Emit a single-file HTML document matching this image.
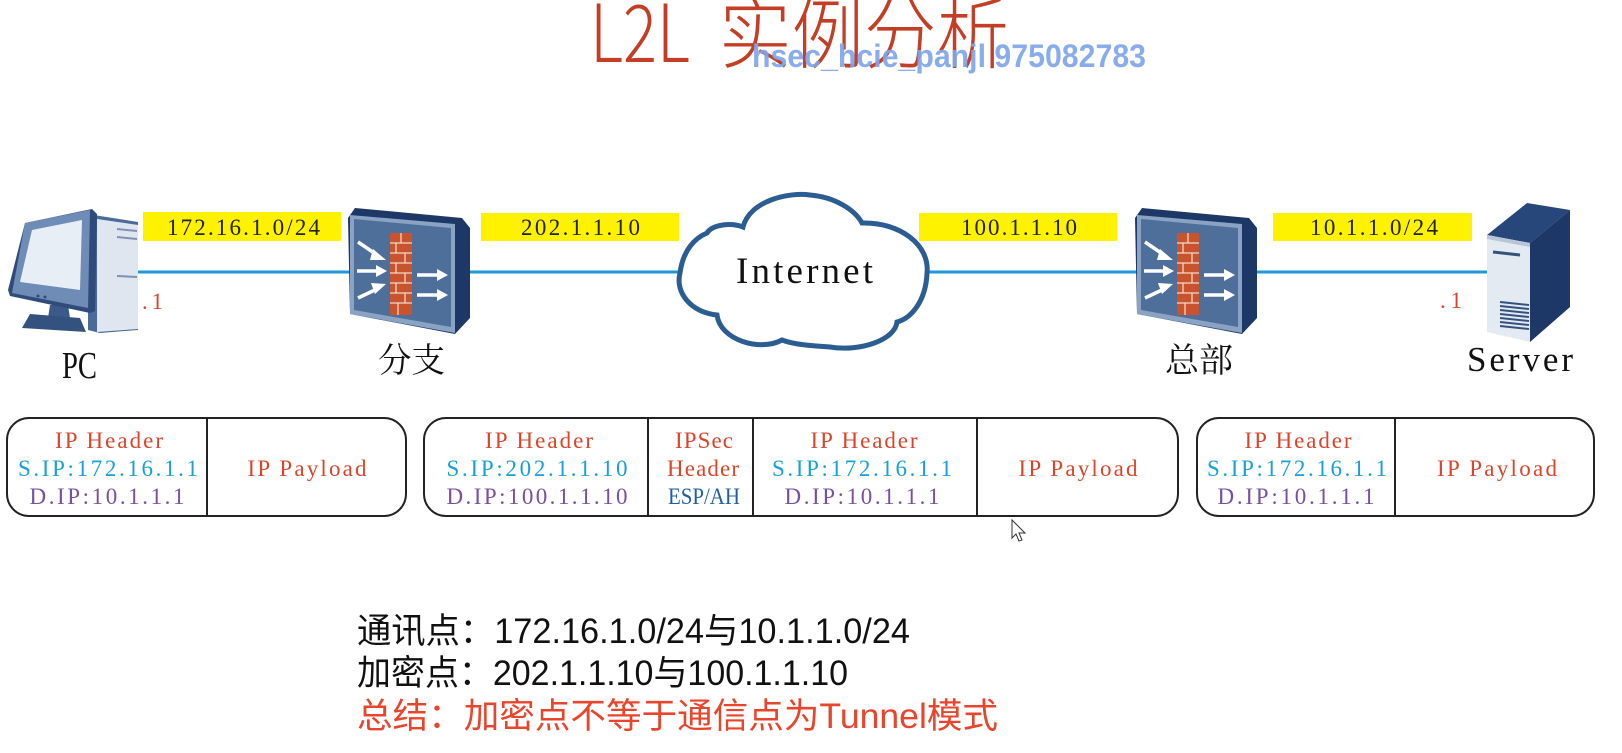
<!DOCTYPE html>
<html><head><meta charset="utf-8"><style>
html,body{margin:0;padding:0;background:#fff;}
svg{display:block;}
</style></head><body>
<svg width="1622" height="753" viewBox="0 0 1622 753" xmlns="http://www.w3.org/2000/svg">
<rect width="1622" height="753" fill="#ffffff"/>

<!-- Title -->
<text x="590" y="62" font-family="Noto Sans CJK SC, Liberation Sans, sans-serif" font-weight="300" font-size="80" fill="#c43e25" textLength="100" lengthAdjust="spacingAndGlyphs">L2L</text>
<text x="719" y="62" font-family="Noto Sans CJK SC, sans-serif" font-weight="300" font-size="78" fill="#c43e25" textLength="290" lengthAdjust="spacingAndGlyphs">实例分析</text>
<text x="752" y="67" font-family="Liberation Sans, sans-serif" font-weight="bold" font-size="32" fill="#7fa6ea" fill-opacity="0.92" textLength="394" lengthAdjust="spacingAndGlyphs">hsec_hcie_panjl 975082783</text>

<!-- Links -->
<g stroke="#1b9ad7" stroke-width="3">
<line x1="138" y1="272" x2="350" y2="272"/>
<line x1="468" y1="272" x2="680" y2="272"/>
<line x1="925" y1="272" x2="1137" y2="272"/>
<line x1="1255" y1="272" x2="1488" y2="272"/>
</g>

<!-- Yellow labels -->
<g fill="#fff200">
<rect x="143" y="212" width="198" height="29"/>
<rect x="481" y="213" width="198" height="28"/>
<rect x="919" y="213" width="198" height="28"/>
<rect x="1273" y="213" width="199" height="28"/>
</g>
<g font-family="Liberation Serif, serif" font-size="23" fill="#222">
<text x="167" y="235" textLength="153" lengthAdjust="spacing">172.16.1.0/24</text>
<text x="521" y="235" textLength="119" lengthAdjust="spacing">202.1.1.10</text>
<text x="961" y="235" textLength="116" lengthAdjust="spacing">100.1.1.10</text>
<text x="1310" y="235" textLength="128" lengthAdjust="spacing">10.1.1.0/24</text>
</g>

<!-- PC icon -->
<g>
<polygon points="88,214 100,216 138,222 138,330 100,333 88,330" fill="#4a6a9a"/>
<polygon points="97,219 138,225 138,329 97,332" fill="#dfe6f0"/>
<line x1="117" y1="229" x2="137" y2="231" stroke="#7d93b5" stroke-width="2"/>
<line x1="117" y1="237" x2="137" y2="239" stroke="#7d93b5" stroke-width="2"/>
<line x1="117" y1="276" x2="137" y2="277" stroke="#7d93b5" stroke-width="2"/>
<polygon points="50,305 68,305 70,318 48,318" fill="#3c5a88"/>
<polygon points="30,314 80,318 86,332 22,328" fill="#34527f"/>
<polygon points="25,223 92,209 97,214 95,311 90,313 10,296 8,290" fill="#2f4b7a"/>
<polygon points="25,223 90,210 88,308 12,293" fill="#6f8cb6"/>
<polygon points="32,230 82,220 80,290 20,282" fill="#e8eef6"/>
<circle cx="38" cy="296" r="1.5" fill="#2f4b7a"/>
<circle cx="45" cy="297" r="1.5" fill="#2f4b7a"/>
</g>

<!-- Firewall 1 -->
<g>
<polygon points="355,208 462,218 470,228 470,318 455,334 350,314 348,218" fill="#1d3766"/>
<polygon points="350,215 455,224 455,333 350,314" fill="#8aa3c4"/>
<polygon points="354,219 451,228 451,327 354,310" fill="#4f6f9b"/>
<rect x="390" y="233" width="22" height="82" fill="#c9532c"/>
<g stroke="#f3d7c8" stroke-width="1.3">
<line x1="390" y1="243" x2="412" y2="243"/><line x1="390" y1="253" x2="412" y2="253"/>
<line x1="390" y1="263" x2="412" y2="263"/><line x1="390" y1="273" x2="412" y2="273"/>
<line x1="390" y1="283" x2="412" y2="283"/><line x1="390" y1="293" x2="412" y2="293"/>
<line x1="390" y1="303" x2="412" y2="303"/>
<line x1="401" y1="233" x2="401" y2="243"/><line x1="396" y1="243" x2="396" y2="253"/>
<line x1="405" y1="253" x2="405" y2="263"/><line x1="396" y1="263" x2="396" y2="273"/>
<line x1="405" y1="273" x2="405" y2="283"/><line x1="396" y1="283" x2="396" y2="293"/>
<line x1="405" y1="293" x2="405" y2="303"/><line x1="398" y1="303" x2="398" y2="315"/>
</g>
<g stroke="#ffffff" stroke-width="3.5">
<line x1="358" y1="242" x2="377" y2="255"/>
<line x1="357" y1="271" x2="378" y2="271"/>
<line x1="358" y1="298" x2="377" y2="289"/>
<line x1="417" y1="275" x2="440" y2="275"/>
<line x1="417" y1="295" x2="440" y2="295"/>
</g>
<g fill="#fff">
<polygon points="373,249 386,260 370,260"/>
<polygon points="376,265 387,271 376,277"/>
<polygon points="371,283 386,284 375,294"/>
<polygon points="437,269 448,275 437,281"/>
<polygon points="437,289 448,295 437,301"/>
</g>
</g>

<!-- Firewall 2 -->
<g transform="translate(787,0)">
<polygon points="355,208 462,218 470,228 470,318 455,334 350,314 348,218" fill="#1d3766"/>
<polygon points="350,215 455,224 455,333 350,314" fill="#8aa3c4"/>
<polygon points="354,219 451,228 451,327 354,310" fill="#4f6f9b"/>
<rect x="390" y="233" width="22" height="82" fill="#c9532c"/>
<g stroke="#f3d7c8" stroke-width="1.3">
<line x1="390" y1="243" x2="412" y2="243"/><line x1="390" y1="253" x2="412" y2="253"/>
<line x1="390" y1="263" x2="412" y2="263"/><line x1="390" y1="273" x2="412" y2="273"/>
<line x1="390" y1="283" x2="412" y2="283"/><line x1="390" y1="293" x2="412" y2="293"/>
<line x1="390" y1="303" x2="412" y2="303"/>
<line x1="401" y1="233" x2="401" y2="243"/><line x1="396" y1="243" x2="396" y2="253"/>
<line x1="405" y1="253" x2="405" y2="263"/><line x1="396" y1="263" x2="396" y2="273"/>
<line x1="405" y1="273" x2="405" y2="283"/><line x1="396" y1="283" x2="396" y2="293"/>
<line x1="405" y1="293" x2="405" y2="303"/><line x1="398" y1="303" x2="398" y2="315"/>
</g>
<g stroke="#ffffff" stroke-width="3.5">
<line x1="358" y1="242" x2="377" y2="255"/>
<line x1="357" y1="271" x2="378" y2="271"/>
<line x1="358" y1="298" x2="377" y2="289"/>
<line x1="417" y1="275" x2="440" y2="275"/>
<line x1="417" y1="295" x2="440" y2="295"/>
</g>
<g fill="#fff">
<polygon points="373,249 386,260 370,260"/>
<polygon points="376,265 387,271 376,277"/>
<polygon points="371,283 386,284 375,294"/>
<polygon points="437,269 448,275 437,281"/>
<polygon points="437,289 448,295 437,301"/>
</g>
</g>

<!-- Cloud -->
<path d="M743,227 C750,200 790,192 810,195 C835,197 855,210 862,223 C900,222 930,245 927,273 C926,300 912,318 897,322 C895,340 860,352 830,347 C815,346 795,345 782,340 C760,352 720,340 717,315 C690,312 675,292 680,273 C683,250 695,238 707,233 C712,225 730,222 743,227 Z" fill="#ffffff" stroke="#2b5c92" stroke-width="5"/>
<text x="736" y="283" font-family="Liberation Serif, serif" font-size="37" fill="#111" textLength="137" lengthAdjust="spacing">Internet</text>

<!-- Server icon -->
<g>
<polygon points="1487,235 1527,203 1570,210 1530,243" fill="#27467a"/>
<polygon points="1530,243 1570,210 1570,307 1530,342" fill="#1d3766"/>
<polygon points="1487,235 1530,243 1530,342 1487,332" fill="#e4eaf2"/>
<polygon points="1487,235 1530,243 1530,247 1487,239" fill="#b9c6d8"/>
<line x1="1493" y1="252" x2="1520" y2="255" stroke="#34527f" stroke-width="3"/>
<g stroke="#34527f" stroke-width="2">
<line x1="1500" y1="302" x2="1529" y2="305"/>
<line x1="1500" y1="306" x2="1529" y2="309"/>
<line x1="1500" y1="310" x2="1529" y2="313"/>
<line x1="1500" y1="314" x2="1529" y2="317"/>
<line x1="1500" y1="318" x2="1529" y2="321"/>
<line x1="1500" y1="322" x2="1529" y2="325"/>
<line x1="1500" y1="326" x2="1529" y2="329"/>
</g>
</g>

<!-- Node labels -->
<text x="62" y="378" font-family="Liberation Serif, serif" font-size="38" fill="#111" textLength="35" lengthAdjust="spacingAndGlyphs">PC</text>
<text x="378" y="372" font-family="Noto Serif CJK SC, serif" font-size="34" fill="#111" textLength="67" lengthAdjust="spacingAndGlyphs">分支</text>
<text x="1165" y="372" font-family="Noto Serif CJK SC, serif" font-size="34" fill="#111" textLength="68" lengthAdjust="spacingAndGlyphs">总部</text>
<text x="1467" y="371" font-family="Liberation Serif, serif" font-size="35" fill="#111" textLength="106" lengthAdjust="spacing">Server</text>
<text x="142" y="309" font-family="Liberation Serif, serif" font-size="23" fill="#d9452a" textLength="21" lengthAdjust="spacing">.1</text>
<text x="1440" y="308" font-family="Liberation Serif, serif" font-size="23" fill="#d9452a" textLength="22" lengthAdjust="spacing">.1</text>

<!-- Packet boxes -->
<g fill="none" stroke="#222" stroke-width="2">
<rect x="7" y="418" width="399" height="98" rx="22"/>
<line x1="207" y1="418" x2="207" y2="516"/>
<rect x="424" y="418" width="754" height="98" rx="22"/>
<line x1="648" y1="418" x2="648" y2="516"/>
<line x1="753" y1="418" x2="753" y2="516"/>
<line x1="977" y1="418" x2="977" y2="516"/>
<rect x="1197" y="418" width="397" height="98" rx="22"/>
<line x1="1395" y1="418" x2="1395" y2="516"/>
</g>

<g font-family="Liberation Serif, Noto Serif CJK SC, serif" font-size="23" text-anchor="middle">
<text x="109" y="448" fill="#d9452a" textLength="108" lengthAdjust="spacing">IP Header</text>
<text x="108" y="476" fill="#1aa0d8" textLength="180" lengthAdjust="spacing">S.IP:172.16.1.1</text>
<text x="107" y="504" fill="#7a4fa0" textLength="155" lengthAdjust="spacing">D.IP:10.1.1.1</text>
<text x="307" y="476" fill="#d9452a" textLength="119" lengthAdjust="spacing">IP Payload</text>

<text x="539" y="448" fill="#d9452a" textLength="108" lengthAdjust="spacing">IP Header</text>
<text x="537" y="476" fill="#1aa0d8" textLength="181" lengthAdjust="spacing">S.IP:202.1.1.10</text>
<text x="537" y="504" fill="#7a4fa0" textLength="181" lengthAdjust="spacing">D.IP:100.1.1.10</text>
<text x="704" y="448" fill="#d9452a" textLength="58" lengthAdjust="spacing">IPSec</text>
<text x="703" y="476" fill="#d9452a" textLength="72" lengthAdjust="spacing">Header</text>
<text x="704" y="504" fill="#1f5fa0" textLength="72" lengthAdjust="spacingAndGlyphs">ESP/AH</text>
<text x="864" y="448" fill="#d9452a" textLength="107" lengthAdjust="spacing">IP Header</text>
<text x="862" y="476" fill="#1aa0d8" textLength="180" lengthAdjust="spacing">S.IP:172.16.1.1</text>
<text x="862" y="504" fill="#7a4fa0" textLength="155" lengthAdjust="spacing">D.IP:10.1.1.1</text>
<text x="1078" y="476" fill="#d9452a" textLength="119" lengthAdjust="spacing">IP Payload</text>

<text x="1298" y="448" fill="#d9452a" textLength="107" lengthAdjust="spacing">IP Header</text>
<text x="1297" y="476" fill="#1aa0d8" textLength="180" lengthAdjust="spacing">S.IP:172.16.1.1</text>
<text x="1296" y="504" fill="#7a4fa0" textLength="157" lengthAdjust="spacing">D.IP:10.1.1.1</text>
<text x="1497" y="476" fill="#d9452a" textLength="120" lengthAdjust="spacing">IP Payload</text>
</g>

<!-- Mouse cursor -->
<polygon points="1012,520 1012,538 1016,534 1019,541 1022,540 1019,533 1025,533 Z" fill="#fff" stroke="#333" stroke-width="1"/>

<!-- Summary text -->
<g font-family="Liberation Sans, Noto Sans CJK SC, sans-serif" font-size="35">
<text x="357" y="643" fill="#111" textLength="553" lengthAdjust="spacingAndGlyphs">通讯点：172.16.1.0/24与10.1.1.0/24</text>
<text x="357" y="685" fill="#111" textLength="491" lengthAdjust="spacingAndGlyphs">加密点：202.1.1.10与100.1.1.10</text>
<text x="357" y="728" fill="#e8452c" textLength="641" lengthAdjust="spacingAndGlyphs">总结：加密点不等于通信点为Tunnel模式</text>
</g>
</svg>
</body></html>
